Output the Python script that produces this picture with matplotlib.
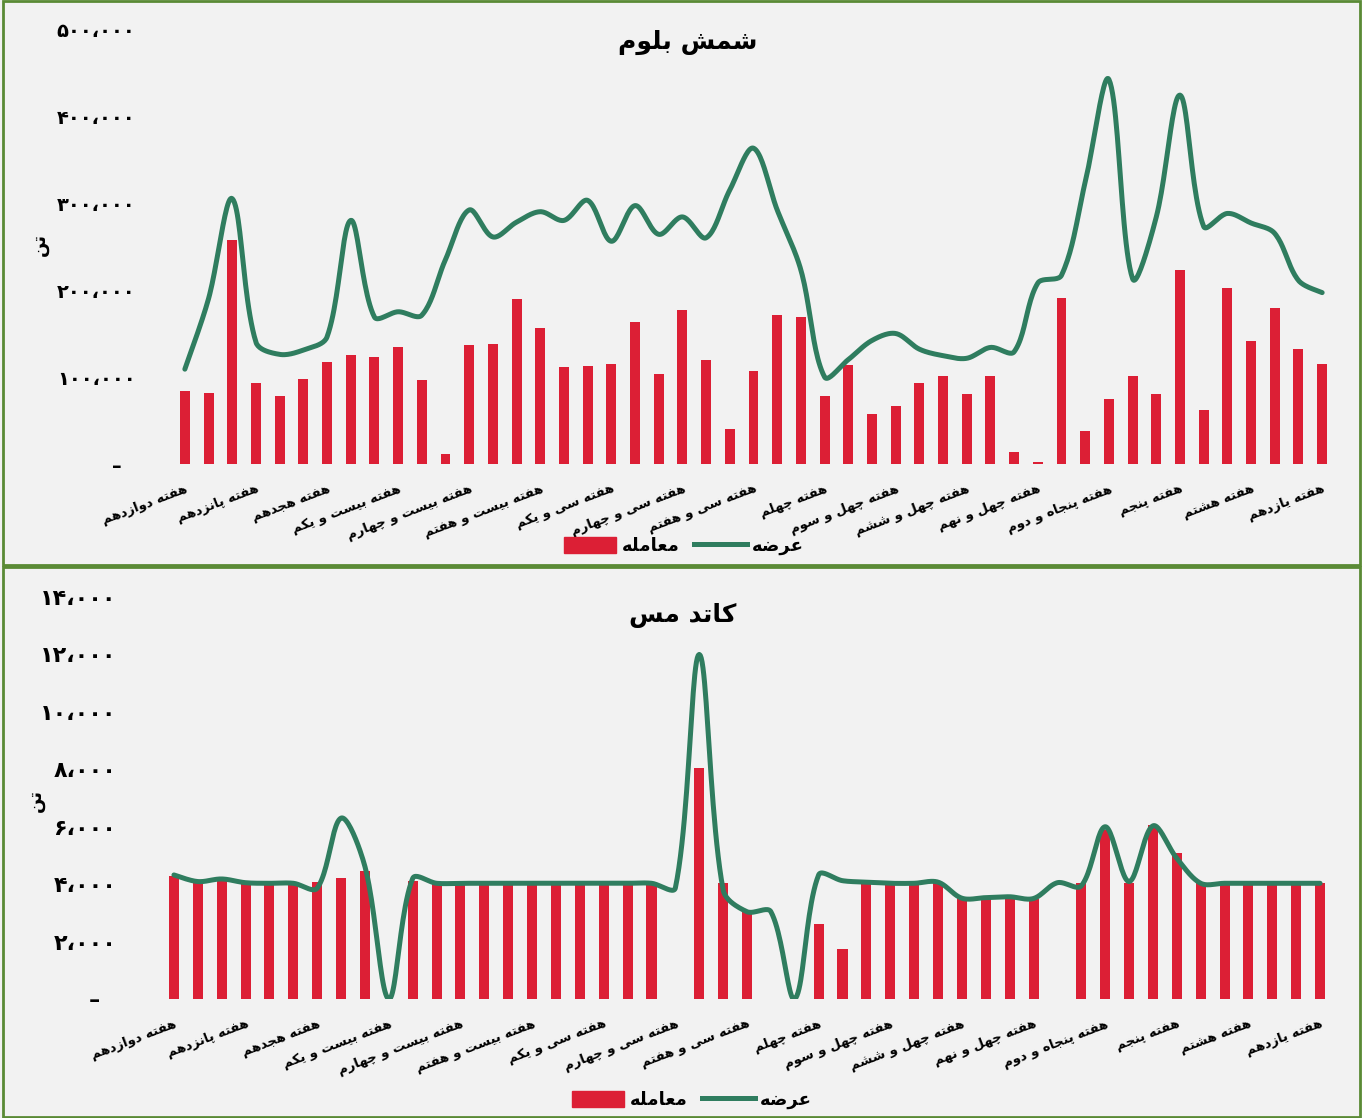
import numpy as np
import matplotlib
matplotlib.use("Agg")
import matplotlib.pyplot as plt
from matplotlib.patches import Rectangle, Patch
from matplotlib.lines import Line2D
from matplotlib.ticker import FuncFormatter

# week labels shown on the x axis (every third category)
week_labels = ['هفته دوازدهم', 'هفته پانزدهم', 'هفته هجدهم', 'هفته بیست و یکم',
               'هفته بیست و چهارم', 'هفته بیست و هفتم', 'هفته سی و یکم',
               'هفته سی و چهارم', 'هفته سی و هفتم', 'هفته چهلم', 'هفته چهل و سوم',
               'هفته چهل و ششم', 'هفته چهل و نهم', 'هفته پنجاه و دوم',
               'هفته پنجم', 'هفته هشتم', 'هفته یازدهم']
n_weeks = 49

# شمش بلوم (tons)
bloom_trade = [84300, 82000, 257000, 93100, 78200, 97300, 117200, 125700, 123400, 134500,
               96900, 11900, 136800, 138300, 189700, 155900, 111900, 113000, 114600, 163600,
               103100, 177400, 119500, 40200, 106900, 170900, 169300, 78200, 113400, 57100,
               67000, 93100, 100800, 80800, 100800, 14200, 2700, 190800, 37900, 74700,
               100800, 80800, 223400, 61700, 201900, 141000, 179700, 132200, 114600]
bloom_supply = [109000, 190000, 305000, 140000, 126000, 131000, 146000, 280000, 169000, 175000,
                171000, 235000, 292000, 261000, 278000, 290000, 280000, 303000, 256000, 297000,
                264000, 284000, 260000, 315000, 363000, 292000, 223000, 100000, 120000, 142000,
                150000, 132000, 124500, 121500, 134000, 129000, 208000, 217000, 324000, 442000,
                213000, 284000, 424000, 273000, 288000, 277000, 265000, 211000, 197000]

# کاتد مس (tons)
copper_trade = [4300, 4090, 4150, 4030, 4030, 4030, 4090, 4230, 4460, 0,
                4110, 4030, 4030, 4030, 4050, 4050, 4030, 4030, 4030, 4030,
                4030, 0, 8040, 4050, 3040, 0, 0, 2600, 1730, 4030,
                4030, 4030, 4030, 3510, 3510, 3500, 3500, 0, 4050, 5890,
                4050, 6060, 5080, 4030, 4030, 4030, 4030, 4030, 4030]
copper_supply = [4320, 4090, 4180, 4050, 4030, 4030, 3860, 6300, 4610, 0,
                 4200, 4030, 4030, 4030, 4030, 4030, 4030, 4030, 4030, 4030,
                 4030, 3870, 12000, 3800, 3040, 3040, 0, 4320, 4120, 4070,
                 4030, 4030, 4070, 3510, 3530, 3560, 3500, 4050, 3940, 6000,
                 4090, 6030, 4900, 4030, 4030, 4030, 4030, 4030, 4030]

RED = '#DC1F35'
GREEN = '#2F7D5F'
BG = '#F2F2F2'
BORDER = '#5A8A35'
FONT = ['DejaVu Sans']

# simple Persian shaping (matplotlib has no RTL / joining support)
FORMS = {
    'ا': ('\uFE8D', '\uFE8E', None, None),
    'ب': ('\uFE8F', '\uFE90', '\uFE91', '\uFE92'),
    'پ': ('\uFB56', '\uFB57', '\uFB58', '\uFB59'),
    'ت': ('\uFE95', '\uFE96', '\uFE97', '\uFE98'),
    'ج': ('\uFE9D', '\uFE9E', '\uFE9F', '\uFEA0'),
    'چ': ('\uFB7A', '\uFB7B', '\uFB7C', '\uFB7D'),
    'د': ('\uFEA9', '\uFEAA', None, None),
    'ر': ('\uFEAD', '\uFEAE', None, None),
    'ز': ('\uFEAF', '\uFEB0', None, None),
    'س': ('\uFEB1', '\uFEB2', '\uFEB3', '\uFEB4'),
    'ش': ('\uFEB5', '\uFEB6', '\uFEB7', '\uFEB8'),
    'ض': ('\uFEBD', '\uFEBE', '\uFEBF', '\uFEC0'),
    'ع': ('\uFEC9', '\uFECA', '\uFECB', '\uFECC'),
    'ف': ('\uFED1', '\uFED2', '\uFED3', '\uFED4'),
    'ک': ('\uFB8E', '\uFB8F', '\uFB90', '\uFB91'),
    'ل': ('\uFEDD', '\uFEDE', '\uFEDF', '\uFEE0'),
    'م': ('\uFEE1', '\uFEE2', '\uFEE3', '\uFEE4'),
    'ن': ('\uFEE5', '\uFEE6', '\uFEE7', '\uFEE8'),
    'ه': ('\uFEE9', '\uFEEA', '\uFEEB', '\uFEEC'),
    'و': ('\uFEED', '\uFEEE', None, None),
    'ی': ('\uFBFC', '\uFBFD', '\uFBFE', '\uFBFF'),
}
FORMS['\u064A'] = FORMS['ی']
FORMS['\u0643'] = FORMS['ک']


def fa(text):
    out = []
    for i, ch in enumerate(text):
        f = FORMS.get(ch)
        if f is None:
            out.append(ch)
            continue
        prev = FORMS.get(text[i - 1]) if i > 0 else None
        nxt = FORMS.get(text[i + 1]) if i + 1 < len(text) else None
        join_prev = prev is not None and prev[2] is not None
        join_next = nxt is not None and f[2] is not None
        if join_prev and join_next:
            out.append(f[3])
        elif join_prev:
            out.append(f[1])
        elif join_next:
            out.append(f[2])
        else:
            out.append(f[0])
    return ''.join(out)[::-1]


PERSIAN_DIGITS = str.maketrans('0123456789', '۰۱۲۳۴۵۶۷۸۹')


def fa_number(v, pos=None):
    if v == 0:
        return '–  '
    return f'{int(v):,}'.translate(PERSIAN_DIGITS).replace(',', '،')


def smooth(x, y, px_x, px_y, n=24):
    # bezier smoothing with chord-weighted tangents (close to the spreadsheet "smoothed line")
    P = np.column_stack([np.asarray(x, float) * px_x, np.asarray(y, float) * px_y])
    m = len(P)
    c_out = np.zeros_like(P)
    c_in = np.zeros_like(P)
    for i in range(m):
        if i == 0:
            c_out[i] = P[0] + (P[1] - P[0]) / 6.0
            continue
        if i == m - 1:
            c_in[i] = P[i] - (P[i] - P[i - 1]) / 6.0
            continue
        T = P[i + 1] - P[i - 1]
        d0 = np.hypot(*(P[i] - P[i - 1]))
        d1 = np.hypot(*(P[i + 1] - P[i]))
        s = d0 + d1 if d0 + d1 > 0 else 1.0
        c_out[i] = P[i] + T * (d1 / s) / 3.0
        c_in[i] = P[i] - T * (d0 / s) / 3.0
    t = np.linspace(0, 1, n)[:, None]
    pts = []
    for i in range(m - 1):
        seg = ((1 - t) ** 3) * P[i] + 3 * ((1 - t) ** 2) * t * c_out[i] \
            + 3 * (1 - t) * t ** 2 * c_in[i + 1] + t ** 3 * P[i + 1]
        pts.append(seg)
    pts = np.vstack(pts)
    return pts[:, 0] / px_x, pts[:, 1] / px_y


def draw_panel(fig, rect, trade, supply, ymax, ystep, ypad, ysize, px_x, px_y,
               title, title_xy, unit_xy, legend_xy):
    ax = fig.add_axes(rect)
    ax.set_facecolor('none')
    x = np.arange(n_weeks)
    ax.bar(x, trade, width=0.42, color=RED, zorder=2)
    sx, sy = smooth(x, supply, px_x, px_y)
    ax.plot(sx, sy, color=GREEN, lw=3.6, solid_capstyle='round', zorder=3)

    ax.set_xlim(-0.5, n_weeks - 0.5)
    ax.set_ylim(0, ymax)
    ax.set_yticks(np.arange(0, ymax + 1, ystep))
    ax.yaxis.set_major_formatter(FuncFormatter(fa_number))
    ax.tick_params(axis='y', length=0, pad=ypad, labelsize=ysize)
    for lab in ax.get_yticklabels():
        lab.set_fontweight('bold')
        lab.set_family(FONT)

    ax.set_xticks(x[::3])
    ax.set_xticklabels([fa(s) for s in week_labels], rotation=21, ha='right',
                       va='top', rotation_mode='anchor', fontsize=9.5,
                       fontweight='bold', family=FONT)
    ax.tick_params(axis='x', length=0, pad=13)
    for s in ax.spines.values():
        s.set_visible(False)

    fig.text(title_xy[0], title_xy[1], fa(title), ha='center', va='center',
             fontsize=18, fontweight='bold', family=FONT)
    fig.text(unit_xy[0], unit_xy[1], fa('تن'), ha='center', va='center',
             rotation=90, fontsize=13, fontweight='bold', family=FONT)

    handles = [Patch(color=RED), Line2D([0], [0], color=GREEN, lw=3.6)]
    fig.legend(handles, [fa('معامله'), fa('عرضه')], loc='center',
               bbox_to_anchor=legend_xy, ncol=2, frameon=False,
               handlelength=2.9, handleheight=1.0, handletextpad=0.3,
               columnspacing=0.8, prop={'family': FONT, 'weight': 'bold', 'size': 13})
    return ax


W, H = 1362, 1118
fig = plt.figure(figsize=(W / 100, H / 100), dpi=100, facecolor=BG)

for (x0, y0, x1, y1) in [(3, 1, 1360, 565), (3, 567, 1360, 1117)]:
    fig.patches.append(Rectangle((x0 / W, 1 - y1 / H), (x1 - x0) / W, (y1 - y0) / H,
                                 transform=fig.transFigure, fill=False,
                                 edgecolor=BORDER, lw=2.0))

draw_panel(fig, [173 / W, 1 - 464 / H, (1334 - 173) / W, (464 - 29) / H],
           bloom_trade, bloom_supply, 500000, 100000, 27, 14, 23.7, 87 / 100000,
           'شمش بلوم', (688 / W, 1 - 42 / H), (40 / W, 1 - 245 / H),
           (684 / W, 1 - 546 / H))

draw_panel(fig, [162 / W, 1 - 999 / H, (1332 - 162) / W, (999 - 597) / H],
           copper_trade, copper_supply, 14000, 2000, 33, 16, 23.9, 28.7 / 1000,
           'کاتد مس', (683 / W, 1 - 615 / H), (36 / W, 1 - 800 / H),
           (692 / W, 1 - 1100 / H))

fig.savefig('out.png', dpi=100, facecolor=BG)
